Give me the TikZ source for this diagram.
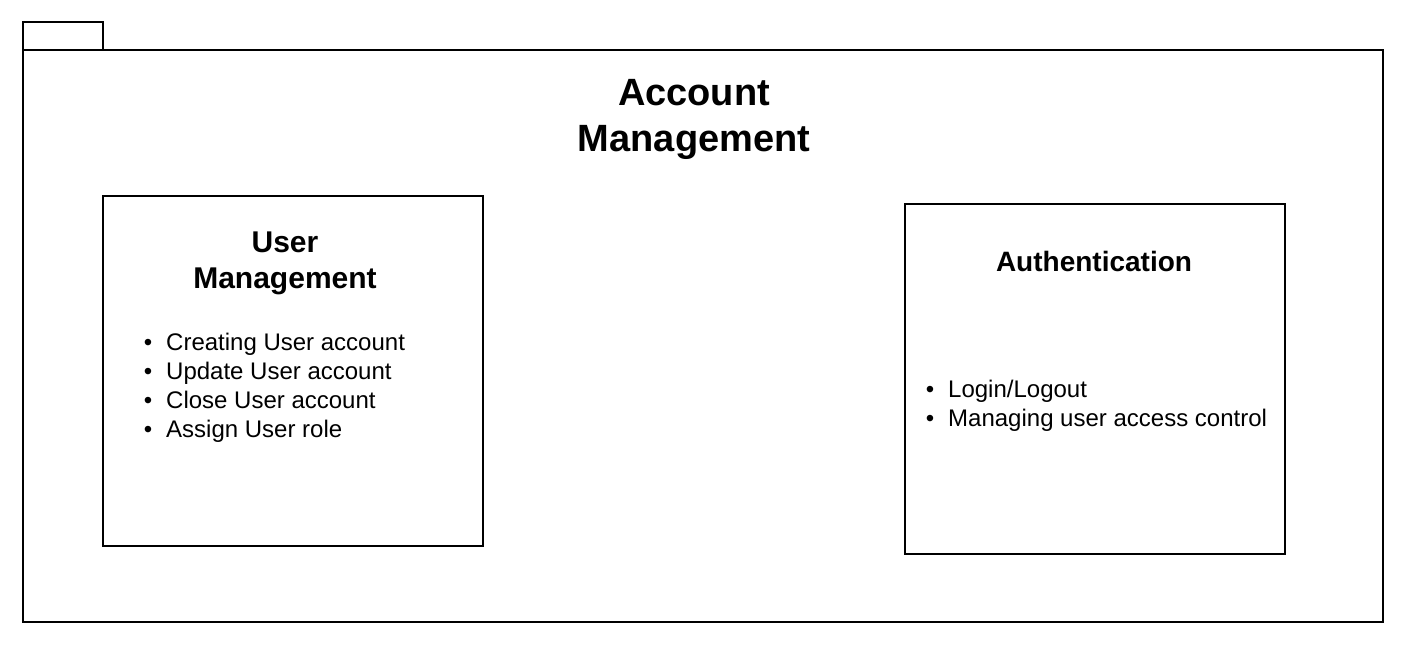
\documentclass[tikz,border=0pt]{standalone}
\usepackage{fontspec}
\setmainfont{Liberation Sans}
\begin{document}
\begin{tikzpicture}[x=1pt,y=-1pt,
  frame/.style={draw=black,line width=1.6pt,inner sep=0pt,outer sep=0pt},
  bigtitle/.style={font=\fontsize{38}{46}\selectfont\bfseries,anchor=base,inner sep=0pt},
  boxtitle/.style={font=\fontsize{30}{36}\selectfont\bfseries,anchor=base,inner sep=0pt},
  item/.style={font=\fontsize{24}{29}\selectfont,anchor=base west,inner sep=0pt},
  bul/.style={font=\fontsize{24}{29}\selectfont,anchor=base,inner sep=0pt}]
\useasboundingbox (0,0) rectangle (1416,648);
% package
\node[frame,minimum width=80pt,minimum height=28pt] (tab) at (63,36) {};
\node[frame,minimum width=1360pt,minimum height=572pt] (pkg) at (703,336) {};
\node[bigtitle] (t1) at (694,105.5) {Account};
\node[bigtitle] (t2) at (694,151.5) {Management};
% user management
\node[frame,minimum width=380pt,minimum height=350pt] (um) at (293,371) {};
\node[boxtitle] (um1) at (285,252) {User};
\node[boxtitle] (um2) at (285,288) {Management};
\node[bul] (b1) at (148,350) {•};
\node[item] (i1) at (166,350) {Creating User account};
\node[bul] (b2) at (148,379) {•};
\node[item] (i2) at (166,379) {Update User account};
\node[bul] (b3) at (148,408) {•};
\node[item] (i3) at (166,408) {Close User account};
\node[bul] (b4) at (148,437) {•};
\node[item] (i4) at (166,437) {Assign User role};
% authentication
\node[frame,minimum width=380pt,minimum height=350pt] (au) at (1095,379) {};
\node[boxtitle,font=\fontsize{28}{34}\selectfont\bfseries] (au1) at (1094,271.5) {Authentication};
\node[bul] (c1) at (930,397) {•};
\node[item] (j1) at (948,397) {Login/Logout};
\node[bul] (c2) at (930,426) {•};
\node[item] (j2) at (948,426) {Managing user access control};
\end{tikzpicture}
\end{document}
